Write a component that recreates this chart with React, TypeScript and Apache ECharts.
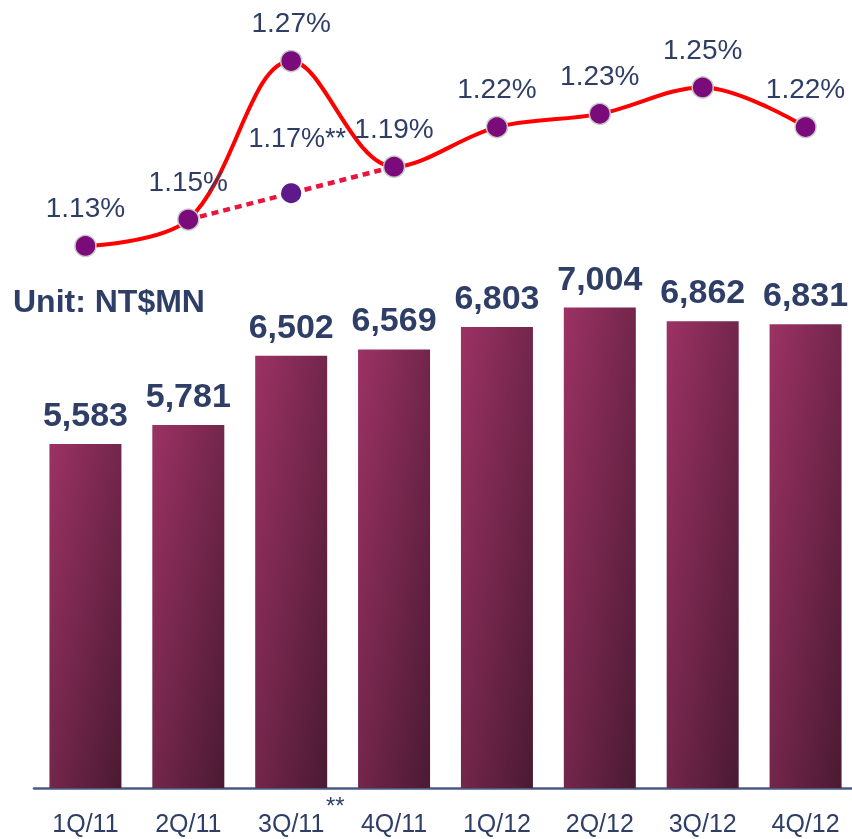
import React, { useEffect, useRef } from "react";
import * as echarts from "echarts";

const categories = ["1Q/11", "2Q/11", "3Q/11", "4Q/11", "1Q/12", "2Q/12", "3Q/12", "4Q/12"];
const revenue = [5583, 5781, 6502, 6569, 6803, 7004, 6862, 6831];
const ratio = [1.13, 1.15, 1.27, 1.19, 1.22, 1.23, 1.25, 1.22];
const adjusted = [null, 1.15, 1.17, 1.19, null, null, null, null];
const adjustedLabel = "1.17%**";

const TEXT = "#2f3e66";
const FONT = "'Liberation Sans', Arial, sans-serif";

export default function App() {
  const ref = useRef<HTMLDivElement>(null);
  useEffect(() => {
    if (!ref.current) return;
    const chart = echarts.init(ref.current, null, { renderer: "svg" });
    const grids = [
      { left: 34, width: 823, top: 260, bottom: 51 },
      { left: 34, width: 823, top: 21.4, bottom: 553.4 },
    ];
    chart.setOption({
      animation: false,
      textStyle: { fontFamily: FONT },
      grid: grids,
      xAxis: [
        {
          type: "category",
          gridIndex: 0,
          data: categories,
          axisLine: { show: true, lineStyle: { color: "#4b5a82", width: 2.5 } },
          axisTick: { show: false },
          axisLabel: { color: TEXT, fontSize: 25, margin: 22, fontFamily: FONT },
        },
        {
          type: "category",
          gridIndex: 1,
          data: categories,
          show: false,
        },
      ],
      yAxis: [
        { type: "value", gridIndex: 0, min: 2000, max: 7500, show: false, splitLine: { show: false } },
        { type: "value", gridIndex: 1, min: 1.1, max: 1.3, show: false, splitLine: { show: false } },
      ],
      series: [
        {
          type: "bar",
          xAxisIndex: 0,
          yAxisIndex: 0,
          data: revenue,
          barWidth: 72,
          itemStyle: {
            color: new echarts.graphic.LinearGradient(0, 0, 1, 1, [
              { offset: 0, color: "#9c3264" },
              { offset: 1, color: "#4a1a32" },
            ]),
          },
          label: {
            show: true,
            position: "top",
            distance: 13,
            color: TEXT,
            fontSize: 34,
            fontWeight: "bold",
            fontFamily: FONT,
            formatter: (p: any) => p.value.toLocaleString("en-US"),
          },
        },
        {
          type: "line",
          xAxisIndex: 1,
          yAxisIndex: 1,
          data: adjusted,
          connectNulls: false,
          lineStyle: { color: "#e8153c", width: 4.5, type: [7, 5] },
          symbol: "circle",
          symbolSize: 20,
          itemStyle: { color: "#5e1a8a" },
          z: 2,
          label: {
            show: true,
            position: "top",
            distance: 32,
            offset: [6, 0],
            color: TEXT,
            fontSize: 27,
            fontFamily: FONT,
            formatter: (p: any) => (p.dataIndex === 2 ? adjustedLabel : ""),
          },
        },
        {
          type: "line",
          xAxisIndex: 1,
          yAxisIndex: 1,
          data: ratio,
          smooth: 0.35,
          lineStyle: { color: "#ff0000", width: 4 },
          symbol: "circle",
          symbolSize: 21,
          itemStyle: { color: "#7b0a7b", borderColor: "#c8c8c8", borderWidth: 1.5 },
          z: 3,
          label: {
            show: true,
            position: "top",
            distance: 13,
            color: TEXT,
            fontSize: 28,
            fontFamily: FONT,
            formatter: (p: any) => p.value.toFixed(2) + "%",
          },
        },
      ],
      graphic: [
        {
          type: "text",
          left: 13,
          top: 285,
          style: { text: "Unit: NT$MN", fill: TEXT, font: `bold 32px ${FONT}` },
        },
        {
          type: "text",
          left: 326,
          top: 793,
          style: { text: "**", fill: TEXT, font: `24px ${FONT}` },
        },
      ],
    });
    return () => chart.dispose();
  }, []);
  return <div ref={ref} style={{ position: "fixed", left: 0, top: 0, width: 860, height: 839 }} />;
}
